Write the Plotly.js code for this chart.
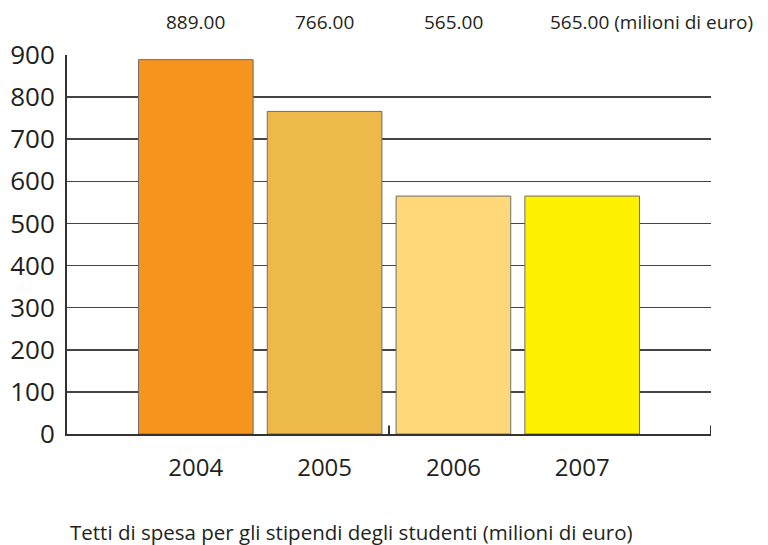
<!DOCTYPE html>
<html>
<head>
<meta charset="utf-8">
<script src="https://cdn.plot.ly/plotly-3.0.1.min.js"></script>
<style>html,body{margin:0;padding:0;background:#fff;}#chart{width:768px;height:545px;}</style>
</head>
<body>
<div id="chart"></div>
<script>
const years = ['2004', '2005', '2006', '2007'];
const values = [889, 766, 565, 565];
const valueLabels = ['889.00', '766.00', '565.00', '565.00 (milioni di euro)'];
const barColors = ['#F7941D', '#EDB94A', '#FFD87A', '#FFF200'];
const yTicks = [0, 100, 200, 300, 400, 500, 600, 700, 800, 900];
const chartTitle = 'Tetti di spesa per gli stipendi degli studenti (milioni di euro)';

const font = 'Open Sans, Noto Sans, sans-serif';

const trace = {
  type: 'bar',
  x: years,
  y: values,
  marker: {color: barColors, line: {color: '#6d6d6d', width: 1}},
  hoverinfo: 'none'
};

const annotations = years.map((yr, i) => ({
  x: i, xref: 'x',
  y: 1, yref: 'paper', yanchor: 'bottom', yshift: 18,
  text: valueLabels[i],
  showarrow: false,
  xanchor: i === years.length - 1 ? 'left' : 'center',
  xshift: i === years.length - 1 ? -34 : 0,
  font: {family: font, size: 19, color: '#231f20'}
}));

const layout = {
  width: 768, height: 545,
  margin: {l: 67, r: 57, t: 55, b: 111},
  paper_bgcolor: '#fff', plot_bgcolor: '#fff',
  showlegend: false,
  bargap: 0.11,
  title: {
    text: chartTitle,
    x: 70 / 768, xref: 'container', xanchor: 'left',
    y: 1 - 533 / 545, yref: 'container', yanchor: 'middle',
    font: {family: font, size: 20.5, color: '#231f20'}
  },
  xaxis: {
    type: 'category',
    range: [-1, 4],
    showgrid: false,
    showline: true, linecolor: '#333', linewidth: 2,
    ticks: '', ticklabelstandoff: 11,
    tickfont: {family: font, size: 24, color: '#231f20'},
    fixedrange: true
  },
  yaxis: {
    range: [0, 900],
    tickvals: yTicks,
    showgrid: true, gridcolor: '#444', gridwidth: 1.5,
    zeroline: false,
    showline: true, linecolor: '#333', linewidth: 2,
    ticks: '', ticklabelstandoff: 5,
    tickfont: {family: font, size: 26, color: '#231f20'},
    fixedrange: true
  },
  shapes: [
    {type: 'line', xref: 'x', yref: 'y', x0: 1.5, x1: 1.5, y0: 0, y1: 20, line: {color: '#333', width: 2}},
    {type: 'line', xref: 'x', yref: 'y', x0: 4, x1: 4, y0: 0, y1: 20, line: {color: '#333', width: 2}}
  ],
  annotations: annotations
};

Plotly.newPlot('chart', [trace], layout, {displayModeBar: false, staticPlot: true});
</script>
</body>
</html>
